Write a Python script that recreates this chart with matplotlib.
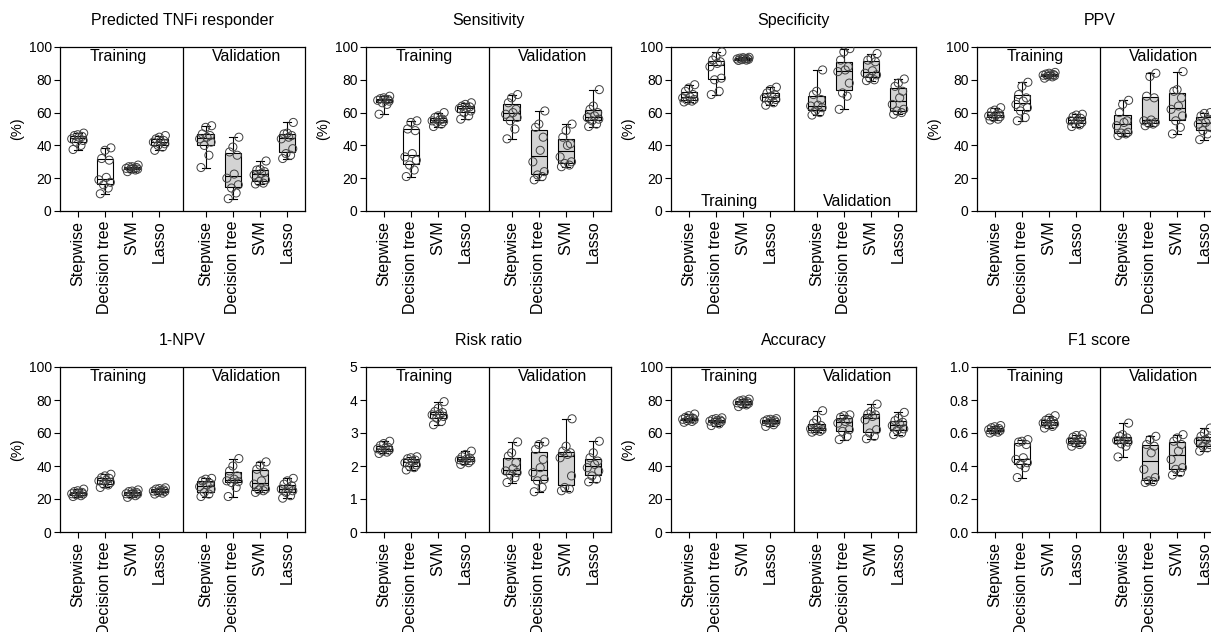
import numpy as np
import matplotlib.pyplot as plt

plt.rcParams['font.family'] = ['Liberation Sans', 'DejaVu Sans']

models = ["Stepwise", "Decision tree", "SVM", "Lasso"]

# --- data: 10 repeats per model, training then validation ---
tnfi_train = [
    [37.5, 40, 42, 43, 44, 45, 45.5, 46, 46.5, 47.5],
    [10.5, 14, 16, 17.5, 19, 20.5, 31, 32, 37, 38.5],
    [24, 25, 25.5, 25.5, 26, 26, 26.5, 27, 27, 28],
    [37, 39, 40, 41, 42, 42.5, 43, 44, 45, 46],
]
tnfi_valid = [
    [26.5, 34, 40, 42, 44, 45, 46, 47, 51, 52],
    [7.5, 11, 14, 16, 20, 22.5, 34, 36, 39, 45],
    [16.5, 17, 18, 19, 22, 23, 24, 25, 25.5, 30.5],
    [32, 34, 35, 38, 44, 45, 46, 47, 47.5, 54],
]
sens_train = [
    [59, 65, 66, 67, 67.5, 68, 68, 68.5, 69, 70],
    [21, 25, 28, 31, 33, 35, 49, 50, 54, 55],
    [51.5, 53, 54, 54.5, 55, 55.5, 56, 57, 58, 60],
    [56, 58, 60, 61, 62.5, 63, 63.5, 64, 65, 66],
]
sens_valid = [
    [44, 50, 55, 57, 59, 60, 62, 66, 69, 71],
    [19, 21, 22, 24, 30, 37, 45, 51, 53, 61],
    [27, 28, 29, 30, 33, 40, 41, 45, 49, 53],
    [51.5, 53, 55, 56, 57, 58, 60, 62, 64, 74],
]
spec_train = [
    [66.5, 67, 67.5, 68, 69, 69.5, 71, 73, 75, 77],
    [71, 73, 80, 81, 88, 90, 91, 92, 94, 97],
    [91.8, 92, 92.3, 92.5, 92.7, 92.8, 93, 93.2, 93.5, 93.7],
    [64.5, 66, 67, 68, 69, 70, 71, 72, 74, 75.5],
]
spec_valid = [
    [58.5, 60, 61, 63, 64, 64.5, 68, 71, 73, 86],
    [62, 70, 72, 78, 85, 86, 88, 92, 97, 99],
    [79.5, 80, 81, 83, 84, 85.5, 91, 92, 93, 96],
    [59, 60, 61, 62, 65, 69, 73, 76, 78, 80.5],
]
ppv_train = [
    [55.5, 56, 57, 57.5, 58, 58.5, 59.5, 60.5, 61.5, 63],
    [55, 57, 61, 63, 65, 67, 69, 71, 76, 78.5],
    [81, 81.8, 82.2, 82.5, 82.8, 83, 83.2, 83.5, 84, 84.5],
    [51.5, 52.5, 53.5, 54, 55, 55.5, 56.5, 57.5, 58.5, 59],
]
ppv_valid = [
    [46, 47, 47.5, 48, 52, 54, 55, 60, 65, 67.5],
    [52, 53, 53.5, 54, 55, 55.5, 69, 70, 82, 84],
    [47, 51, 55, 58, 62, 64, 69, 73, 74, 85],
    [43.5, 47, 49, 51, 53, 54, 56, 58, 59.5, 60],
]
npv_train = [
    [21.5, 22, 22.5, 23, 23.2, 23.6, 24, 24.5, 25, 26],
    [27, 28.5, 29, 30, 31, 31.5, 32.5, 33, 34, 35],
    [21, 22, 22.5, 23, 23.2, 23.6, 24, 24.5, 24.8, 25.5],
    [23, 23.5, 24, 24.5, 24.8, 25.2, 25.5, 26, 26.3, 26.8],
]
npv_valid = [
    [21.5, 23, 24, 26, 27.5, 28.5, 29.5, 31, 32, 32.5],
    [21.5, 27, 30, 30.5, 31, 32, 34, 37, 40, 44.5],
    [24, 25, 25.5, 26, 29, 31, 36, 38, 40.5, 42.5],
    [20.5, 22, 24, 25, 26, 26.5, 28, 29, 31, 32.5],
]
rr_train = [
    [2.38, 2.42, 2.45, 2.48, 2.52, 2.54, 2.57, 2.62, 2.68, 2.75],
    [1.88, 1.95, 1.99, 2.03, 2.1, 2.14, 2.18, 2.22, 2.25, 2.28],
    [3.25, 3.35, 3.45, 3.5, 3.55, 3.58, 3.62, 3.65, 3.75, 3.95],
    [2.05, 2.1, 2.13, 2.16, 2.19, 2.21, 2.24, 2.28, 2.35, 2.45],
]
rr_valid = [
    [1.5, 1.65, 1.75, 1.8, 1.85, 1.92, 2.1, 2.3, 2.4, 2.73],
    [1.22, 1.35, 1.55, 1.6, 1.8, 1.95, 2.2, 2.5, 2.65, 2.73],
    [1.25, 1.3, 1.35, 1.7, 2.25, 2.35, 2.4, 2.45, 2.6, 3.43],
    [1.52, 1.6, 1.7, 1.85, 1.95, 2.05, 2.15, 2.25, 2.4, 2.75],
]
acc_train = [
    [66.5, 67, 67.5, 68, 68.3, 68.7, 69, 69.5, 70.5, 71.5],
    [64.5, 65.5, 66.5, 67, 67.2, 67.5, 67.8, 68.2, 68.7, 69.2],
    [76, 77, 77.5, 78, 78.3, 78.7, 79, 79.5, 80, 80.5],
    [64, 65, 66, 66.5, 67, 67.2, 67.5, 68, 68.3, 68.7],
]
acc_valid = [
    [60.5, 61, 61.5, 62, 62.5, 63.5, 64.5, 66, 68, 73.5],
    [56, 58, 61, 62, 66, 67, 68, 69.5, 70.5, 71],
    [56.5, 58, 60, 62, 68, 70, 71, 71.5, 73, 77.5],
    [59, 60, 61.5, 62.5, 64.5, 65.5, 66.5, 67.5, 69, 72.5],
]
f1_train = [
    [0.6, 0.605, 0.61, 0.615, 0.62, 0.622, 0.627, 0.632, 0.638, 0.645],
    [0.33, 0.39, 0.41, 0.42, 0.44, 0.45, 0.53, 0.545, 0.55, 0.56],
    [0.63, 0.64, 0.65, 0.655, 0.66, 0.668, 0.672, 0.678, 0.69, 0.705],
    [0.52, 0.53, 0.54, 0.545, 0.55, 0.555, 0.565, 0.575, 0.585, 0.59],
]
f1_valid = [
    [0.455, 0.52, 0.535, 0.545, 0.555, 0.56, 0.57, 0.58, 0.59, 0.66],
    [0.3, 0.305, 0.31, 0.33, 0.38, 0.48, 0.52, 0.53, 0.56, 0.58],
    [0.345, 0.36, 0.38, 0.39, 0.44, 0.49, 0.53, 0.55, 0.57, 0.59],
    [0.49, 0.51, 0.52, 0.53, 0.55, 0.56, 0.57, 0.58, 0.6, 0.63],
]

titles = ["Predicted TNFi responder", "Sensitivity", "Specificity", "PPV",
          "1-NPV", "Risk ratio", "Accuracy", "F1 score"]
train_sets = [tnfi_train, sens_train, spec_train, ppv_train,
              npv_train, rr_train, acc_train, f1_train]
valid_sets = [tnfi_valid, sens_valid, spec_valid, ppv_valid,
              npv_valid, rr_valid, acc_valid, f1_valid]
ymax = [100, 100, 100, 100, 100, 5, 100, 1.0]
yticks = [[0, 20, 40, 60, 80, 100]] * 5 + [[0, 1, 2, 3, 4, 5]] + \
         [[0, 20, 40, 60, 80, 100]] + [[0, 0.2, 0.4, 0.6, 0.8, 1.0]]
ylabels = ["(%)"] * 5 + [""] + ["(%)"] + [""]

pos_train = [1, 2, 3, 4]
pos_valid = [5.7, 6.7, 7.7, 8.7]
jitter = [-0.17, 0.12, -0.05, 0.2, -0.22, 0.05, 0.16, -0.12, 0.0, 0.22]

fig = plt.figure(figsize=(12.11, 6.32), dpi=100)
W, H = 1211.0, 632.0
lefts = [60, 366, 671, 977]
rows = [(47, 211), (367, 532)]

for i in range(8):
    r, c = divmod(i, 4)
    top, bot = rows[r]
    ax = fig.add_axes([lefts[c] / W, (H - bot) / H, 245 / W, (bot - top) / H])

    for data, pos, fc in [(train_sets[i], pos_train, "white"),
                          (valid_sets[i], pos_valid, "#d3d3d3")]:
        ax.boxplot(data, positions=pos, widths=0.6, whis=(0, 100),
                   patch_artist=True, showfliers=False,
                   boxprops=dict(facecolor=fc, edgecolor="black", linewidth=0.8),
                   medianprops=dict(color="black", linewidth=0.8),
                   whiskerprops=dict(color="black", linewidth=0.8),
                   capprops=dict(color="black", linewidth=0.8))
        for p, vals in zip(pos, data):
            xs = [p + jitter[k % len(jitter)] for k in range(len(vals))]
            ax.scatter(xs, vals, s=34, facecolors="none", edgecolors="#404040",
                       linewidths=0.7, zorder=3)

    ax.axvline(4.85, color="black", linewidth=0.9)
    ax.set_xlim(0.35, 9.35)
    ax.set_ylim(0, ymax[i])
    ax.set_yticks(yticks[i])
    if ymax[i] == 1.0:
        ax.set_yticklabels(["%.1f" % t for t in yticks[i]])
    ax.set_xticks(pos_train + pos_valid)
    ax.set_xticklabels(models + models, rotation=90, fontsize=11.5)
    ax.tick_params(axis="y", labelsize=10, length=4, width=0.8, pad=2)
    ax.tick_params(axis="x", length=4, width=0.8, pad=3)
    for s in ax.spines.values():
        s.set_linewidth(0.9)
    if ylabels[i]:
        ax.set_ylabel(ylabels[i], fontsize=10.5, labelpad=3)
    ax.set_title(titles[i], fontsize=11.5, pad=16)

    ty = 0.055 if titles[i] == "Specificity" else 0.945
    ax.text(2.5, ty, "Training", transform=ax.get_xaxis_transform(),
            ha="center", va="center", fontsize=11.5)
    ax.text(7.2, ty, "Validation", transform=ax.get_xaxis_transform(),
            ha="center", va="center", fontsize=11.5)

fig.savefig("out.png", dpi=100)
